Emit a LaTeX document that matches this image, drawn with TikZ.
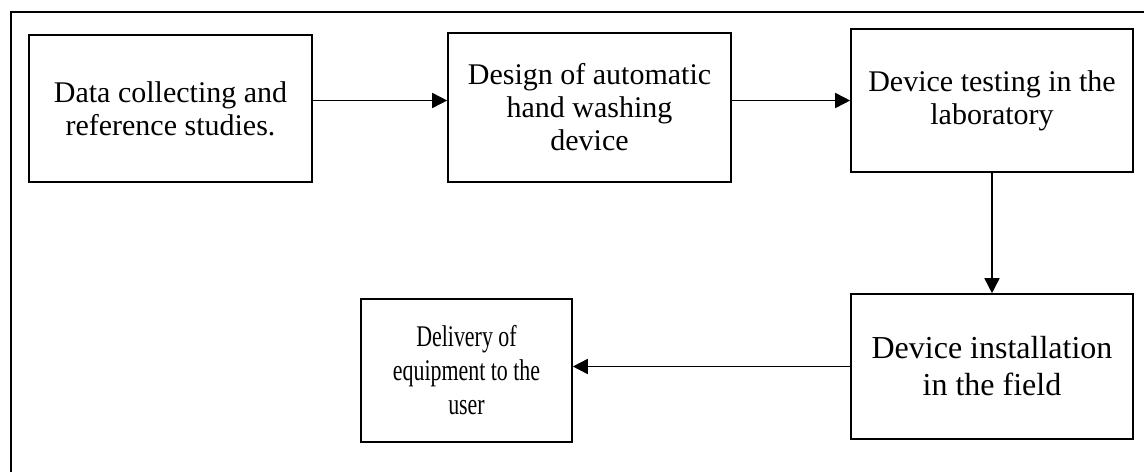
\documentclass[tikz,border=0pt]{standalone}
\usepackage{fontspec}
\setmainfont{Liberation Serif}
\usetikzlibrary{arrows.meta}
\newcommand{\narrow}[1]{\scalebox{0.73}[1]{#1}}
\begin{document}
\begin{tikzpicture}[x=1pt,y=-1pt,
  stepbox/.style={draw, line width=1.6pt, align=center, inner sep=0pt,
    font=\fontsize{30}{33}\selectfont},
  conn/.style={line width=1.6pt, -{Triangle[length=15pt,width=15pt]}}]
\useasboundingbox (0,0) rectangle (1144,472);
\draw[line width=2.4pt] (11,472) -- (11,12) -- (1144,12);
\node[stepbox, minimum width=283pt, minimum height=147pt] (b1) at (170.5,108.5)
  {Data collecting and\\reference studies.};
\node[stepbox, minimum width=283pt, minimum height=149pt] (b2) at (589.5,107.5)
  {Design of automatic\\hand washing\\device};
\node[stepbox, minimum width=282pt, minimum height=143pt] (b3) at (992,100.5)
  {Device testing in the\\laboratory};
\node[stepbox, minimum width=282pt, minimum height=145pt, font=\fontsize{32}{37}\selectfont] (b4) at (992,366.5)
  {Device installation\\in the field};
\node[stepbox, minimum width=211pt, minimum height=143pt, font=\fontsize{30}{34}\selectfont] (b5) at (466.5,370.5)
  {\narrow{Delivery of}\\\narrow{equipment to the}\\\narrow{user}};
\draw[conn] (b1.east |- b3.west) -- (b2.west |- b3.west);
\draw[conn] (b2.east |- b3.west) -- (b3.west);
\draw[conn] (b3.south) -- (b4.north);
\draw[conn] (b4.west) -- (b5.east |- b4.west);
\end{tikzpicture}
\end{document}
